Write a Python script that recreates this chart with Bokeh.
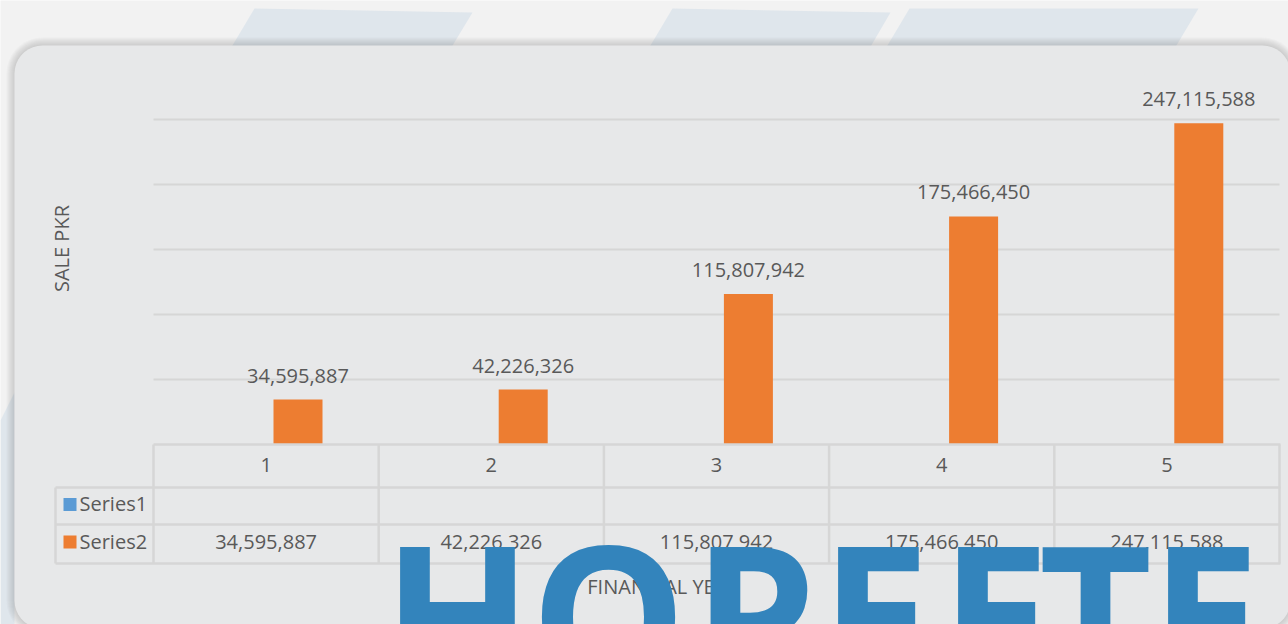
import numpy as np
from bokeh.plotting import figure
from bokeh.models import Range1d, ColumnDataSource
from bokeh.transform import dodge
from bokeh.core.properties import value
from bokeh.embed import file_html
from bokeh.resources import INLINE

# ---------------- data ----------------
categories = ["1", "2", "3", "4", "5"]
series_names = ["Series1", "Series2"]
series1 = [None, None, None, None, None]
series2 = [34595887, 42226326, 115807942, 175466450, 247115588]
grid_ticks = [50e6, 100e6, 150e6, 200e6, 250e6]
x_title = "FINANCIAL YEAR"
y_title = "SALE PKR"
watermark = "HOPEETEE"

# ---------------- styles / layout ----------------
FONT = value("Open Sans")
TXT = "#595959"
BAR = "#ed7d31"
BLUE = "#5b9bd5"
CARD = "#e7e8e9"
BG = "#f2f2f2"
LINE = "#d6d6d6"

W, H = 1288, 624
PLOT_L = 153.0      # page x of left edge of category area
CAT_W = 225.2       # pixels per category
BASE_Y = 444.0      # page y of value 0
PPU = 65.0 / 50e6   # pixels per unit value

x_start = 0.5 - PLOT_L / CAT_W
x_end = 0.5 + (W - PLOT_L) / CAT_W
y_end = BASE_Y / PPU
y_start = -(H - BASE_Y) / PPU

p = figure(width=W, height=H, x_range=Range1d(x_start, x_end), y_range=Range1d(y_start, y_end),
           output_backend="svg", toolbar_location=None, min_border=0,
           x_axis_location=None, y_axis_location=None)
p.extra_x_ranges = {"px": Range1d(0, W)}
p.extra_y_ranges = {"px": Range1d(H, 0)}
p.xgrid.visible = False
p.ygrid.visible = False
p.outline_line_color = None
p.background_fill_color = BG
p.border_fill_color = BG

PX = dict(x_range_name="px", y_range_name="px")


def rrect(l, t, r, b, rad, n=10):
    xs, ys = [], []
    for cx, cy, a0 in [(l + rad, t + rad, np.pi), (r - rad, t + rad, 1.5 * np.pi),
                       (r - rad, b - rad, 0.0), (l + rad, b - rad, 0.5 * np.pi)]:
        a = np.linspace(a0, a0 + 0.5 * np.pi, n)
        xs += list(cx + rad * np.cos(a))
        ys += list(cy + rad * np.sin(a))
    return xs, ys


# ---- background decorations ----
deco_xs = [[254, 472, 443, 223], [672, 890, 862, 641], [909, 1198, 1167, 878], [0, 14, 14, 0]]
deco_ys = [[8, 12, 60, 60], [8, 12, 60, 60], [8, 8, 60, 60], [420, 392, 624, 624]]
p.patches(deco_xs, deco_ys, fill_color="#dfe6ec", line_color=None, **PX)

# card shadow
for k in range(1, 9):
    sx, sy = rrect(14 - k, 45 - k, 1290 + k, 628 + k, 28 + k)
    p.patch(sx, sy, fill_color="#5a646e", fill_alpha=0.032, line_color=None, **PX)
cx_, cy_ = rrect(14, 45, 1290, 628, 28)
p.patch(cx_, cy_, fill_color=CARD, line_color=None, **PX)

# ---- gridlines ----
p.segment(x0=[0.5] * len(grid_ticks), x1=[5.5] * len(grid_ticks), y0=grid_ticks, y1=grid_ticks,
          line_color=LINE, line_width=2)

# ---- bars ----
xpos = [float(c) for c in categories]
src = ColumnDataSource(dict(x=xpos, top=series2, label=[f"{v:,}" for v in series2]))
BAR_OFF = 31.9 / CAT_W
p.vbar(x=dodge("x", BAR_OFF, range=p.x_range), top="top", bottom=0, width=49 / CAT_W, source=src,
       fill_color=BAR, line_color=None)
p.text(x=dodge("x", BAR_OFF, range=p.x_range), y="top", text="label", source=src,
       text_font=FONT, text_font_size="20px", text_color=TXT, text_align="center",
       text_baseline="middle", y_offset=-24)

# ---- data table ----
bounds = [c - 0.5 for c in xpos] + [xpos[-1] + 0.5]
p.segment(x0=bounds, x1=bounds, y0=[444] * len(bounds), y1=[563] * len(bounds),
          line_color=LINE, line_width=2.5, y_range_name="px")
p.segment(x0=[153, 55, 55, 55], x1=[1280, 1280, 1280, 1280], y0=[444, 487, 524, 563],
          y1=[444, 487, 524, 563], line_color=LINE, line_width=2.5, **PX)
p.segment(x0=[55], x1=[55], y0=[487], y1=[563], line_color=LINE, line_width=2.5, **PX)

tsrc = ColumnDataSource(dict(x=xpos, cat=categories, val=[f"{v:,}" for v in series2],
                             y_head=[464] * 5, y_val=[541] * 5))
p.text(x="x", y="y_head", text="cat", source=tsrc, text_font=FONT, text_font_size="20px",
       text_color=TXT, text_align="center", text_baseline="middle", y_range_name="px")
p.text(x="x", y="y_val", text="val", source=tsrc, text_font=FONT, text_font_size="20px",
       text_color=TXT, text_align="center", text_baseline="middle", y_range_name="px")

# legend keys in table
p.scatter(x=[69.5, 69.5], y=[504, 541.5], marker="square", size=13, fill_color=[BLUE, BAR],
          line_color=None, **PX)
p.text(x=[79, 79], y=[503, 541], text=series_names, text_font=FONT, text_font_size="20px",
       text_color=TXT, text_align="left", text_baseline="middle", **PX)

# ---- axis titles ----
p.text(x=[61], y=[248], text=[y_title], angle=np.pi / 2, text_font=FONT, text_font_size="20px",
       text_color=TXT, text_align="center", text_baseline="middle", **PX)
p.text(x=[663], y=[586], text=[x_title], text_font=FONT, text_font_size="20px",
       text_color=TXT, text_align="center", text_baseline="middle", **PX)

# ---- watermark ----
wm_x = [457, 608, 754, 875, 995, 1095, 1205, 1326]
p.text(x=wm_x, y=[610] * len(watermark), text=list(watermark), text_font=FONT,
       text_font_style="bold", text_font_size="196px", text_color="#3384bc",
       text_align="center", text_baseline="middle", **PX)

html = file_html(p, INLINE)
html = html.replace("<body>", '<body style="background:#f2f2f2">', 1)
open("out.html", "w").write(html)
